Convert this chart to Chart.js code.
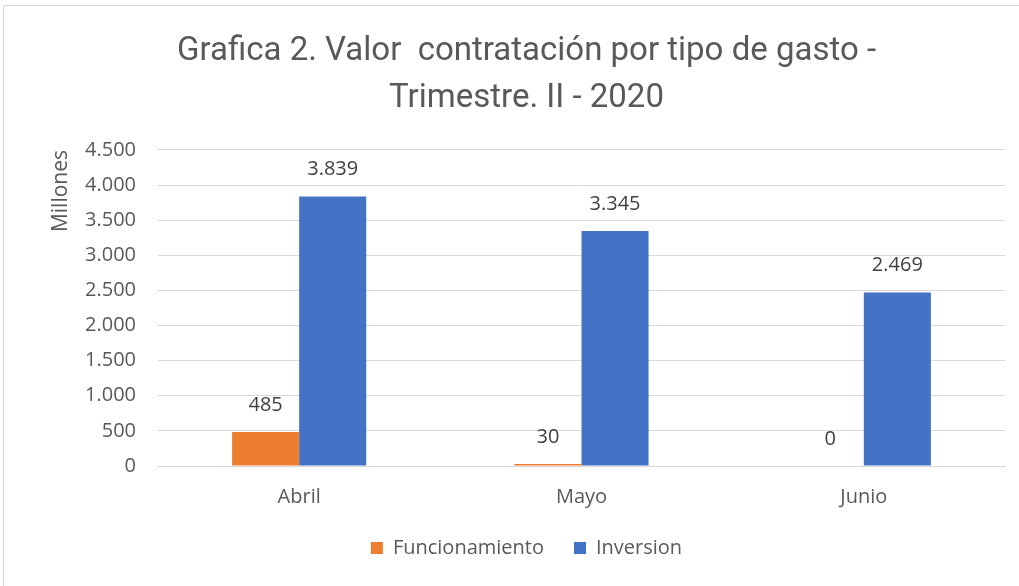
<!DOCTYPE html>
<html><head><meta charset="utf-8">
<script src="https://cdn.jsdelivr.net/npm/chart.js@4/dist/chart.umd.min.js"></script>
<style>
html,body{margin:0;padding:0;background:#fff;}
#frame{position:absolute;left:3px;top:5px;width:1030px;height:600px;border:1px solid #d9d9d9;box-sizing:border-box;}
#wrap{position:absolute;left:0;top:0;width:1019px;height:586px;}
</style></head>
<body>
<div id="frame"></div>
<div id="wrap"><canvas id="c" width="1019" height="586"></canvas></div>
<script>
const categories = ['Abril', 'Mayo', 'Junio'];
const funcionamiento = [485, 30, 0];
const inversion = [3839, 3345, 2469];
const seriesNames = ['Funcionamiento', 'Inversion'];
const titleLines = ['Grafica 2. Valor  contratación por tipo de gasto -', 'Trimestre. II - 2020'];
const yTitle = 'Millones';

function fmt(v){ return String(Math.round(v)).replace(/\B(?=(\d{3})+(?!\d))/g, '.'); }

const labelPlugin = {
  id: 'valueLabels',
  afterDatasetsDraw(chart){
    const ctx = chart.ctx;
    ctx.save();
    ctx.font = '20px "Open Sans"';
    ctx.fillStyle = '#404040';
    ctx.textAlign = 'center';
    ctx.textBaseline = 'middle';
    chart.data.datasets.forEach((ds, i) => {
      chart.getDatasetMeta(i).data.forEach((bar, j) => {
        ctx.fillText(fmt(ds.data[j]), bar.x, bar.y - 27);
      });
    });
    ctx.restore();
  }
};

new Chart(document.getElementById('c'), {
  type: 'bar',
  data: {
    labels: categories,
    datasets: [
      {label: seriesNames[0], data: funcionamiento, backgroundColor: '#ed7d31', borderWidth: 0},
      {label: seriesNames[1], data: inversion, backgroundColor: '#4472c4', borderWidth: 0}
    ]
  },
  options: {
    responsive: false,
    animation: false,
    layout: {padding: {left: 48, right: 14, top: 0, bottom: 18}},
    datasets: {bar: {categoryPercentage: 0.475, barPercentage: 1}},
    scales: {
      x: {
        grid: {display: false, drawTicks: false},
        border: {display: true, color: '#d9d9d9'},
        ticks: {color: '#595959', font: {family: 'Open Sans', size: 20}, padding: 19},
        afterFit(s){ s.height = 42; }
      },
      y: {
        min: 0, max: 4500,
        ticks: {stepSize: 500, color: '#595959', font: {family: 'Open Sans', size: 20}, padding: 22, callback: v => fmt(v)},
        grid: {color: '#d9d9d9', drawTicks: false},
        border: {display: false},
        title: {display: true, text: yTitle, align: 'end', color: '#595959', font: {family: 'Open Sans', size: 21}, padding: 0},
        afterFit(s){ s.width = 110; }
      }
    },
    plugins: {
      title: {
        display: true, text: titleLines, color: '#595959',
        font: {family: 'Roboto', size: 33, weight: 'normal', lineHeight: 1.424},
        padding: {top: 28, bottom: 28}
      },
      legend: {
        position: 'bottom',
        labels: {boxWidth: 12, boxHeight: 12, color: '#595959', font: {family: 'Open Sans', size: 20}, padding: 30}
      },
      tooltip: {enabled: false}
    }
  },
  plugins: [labelPlugin]
});
</script>
</body></html>
